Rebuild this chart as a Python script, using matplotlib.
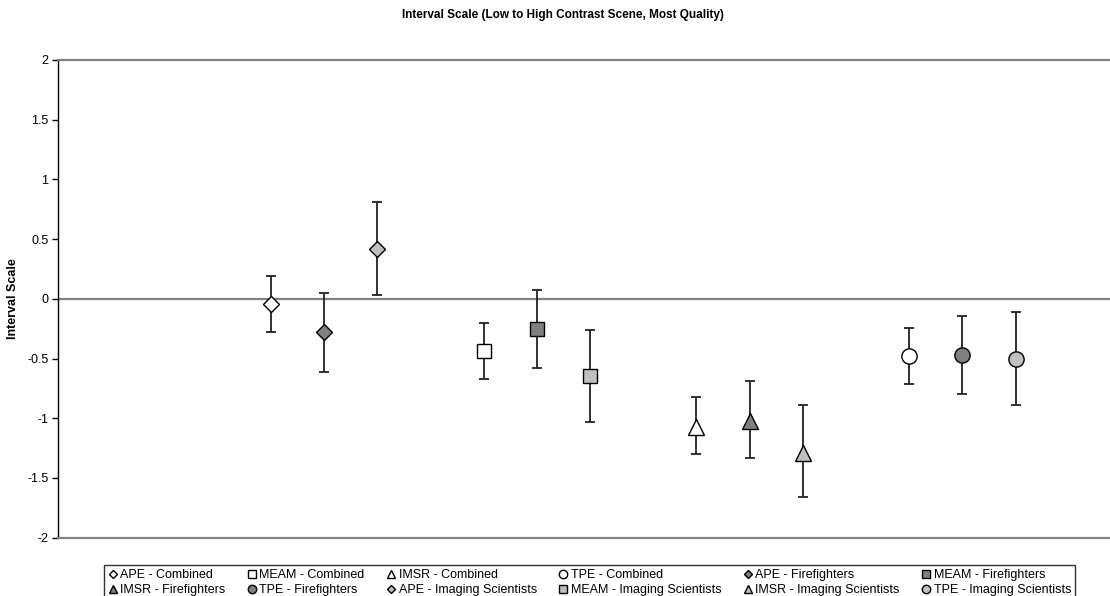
import numpy as np
import matplotlib.pyplot as plt
from matplotlib.lines import Line2D

plt.rcParams['font.family'] = ['Liberation Sans', 'DejaVu Sans']
plt.rcParams['axes.unicode_minus'] = False

# metrics (groups along x) and observer sets (series inside a group)
metrics = ['APE', 'MEAM', 'IMSR', 'TPE']
observers = ['Combined', 'Firefighters', 'Imaging Scientists']

# interval scale values, rows = metric, cols = observer set
values = np.array([
    [-0.045, -0.28, 0.418],
    [-0.44, -0.25, -0.65],
    [-1.07, -1.025, -1.29],
    [-0.48, -0.47, -0.50],
])
upper = np.array([
    [0.19, 0.05, 0.807],
    [-0.20, 0.076, -0.26],
    [-0.82, -0.684, -0.888],
    [-0.247, -0.144, -0.113],
])
lower = np.array([
    [-0.28, -0.61, 0.03],
    [-0.67, -0.58, -1.03],
    [-1.30, -1.335, -1.66],
    [-0.717, -0.80, -0.89],
])

yticks = [-2, -1.5, -1, -0.5, 0, 0.5, 1, 1.5, 2]
ytick_labels = ['-2', '-1.5', '-1', '-0.5', '0', '0.5', '1', '1.5', '2']

marker_shapes = {'APE': 'D', 'MEAM': 's', 'IMSR': '^', 'TPE': 'o'}
marker_sizes = {'APE': 8, 'MEAM': 10.5, 'IMSR': 11.5, 'TPE': 11}
fills = {'Combined': 'white', 'Firefighters': '#808080', 'Imaging Scientists': '#C0C0C0'}

fig = plt.figure(figsize=(11.10, 5.96), dpi=100)
ax = fig.add_axes([58 / 1110, 1 - 537.7 / 596, 1 - 58 / 1110, (537.7 - 60) / 596])

handles = {}
for g, m in enumerate(metrics):
    for s, o in enumerate(observers):
        x = 4 + 4 * g + s
        v = values[g, s]
        yerr = [[v - lower[g, s]], [upper[g, s] - v]]
        ax.errorbar([x], [v], yerr=yerr, fmt='none', ecolor='#222222',
                    elinewidth=1.3, capsize=3.3, capthick=1.3, zorder=2)
        ax.plot([x], [v], linestyle='none', marker=marker_shapes[m],
                markersize=marker_sizes[m], markerfacecolor=fills[o],
                markeredgecolor='black', markeredgewidth=1.0, zorder=3)
        handles[(m, o)] = Line2D([], [], linestyle='none', marker=marker_shapes[m],
                                 markersize=marker_sizes[m] * 0.55, markerfacecolor=fills[o],
                                 markeredgecolor='black', markeredgewidth=1.0)

ax.axhline(0, color='#808080', linewidth=1.6, zorder=1)

ax.set_xlim(0, (1110 - 58) / 53.2)
ax.set_ylim(-2, 2)
ax.set_xticks([])
ax.set_yticks(yticks)
ax.set_yticklabels(ytick_labels, fontsize=9)
ax.tick_params(axis='y', direction='out', length=4, width=1, pad=3)

ax.spines['right'].set_visible(False)
ax.spines['top'].set_color('#808080')
ax.spines['top'].set_linewidth(1.6)
ax.spines['bottom'].set_color('#808080')
ax.spines['bottom'].set_linewidth(1.6)
ax.spines['left'].set_color('black')
ax.spines['left'].set_linewidth(1.0)

ax.set_ylabel('Interval Scale', fontsize=9, fontweight='bold', labelpad=6)

fig.text(563 / 1110, 1 - 15 / 596, 'Interval Scale (Low to High Contrast Scene, Most Quality)',
         ha='center', va='center', fontsize=8.5, fontweight='bold')

# legend entries in row-major order as in the original, reordered for column filling
order = [(m, o) for o in observers for m in metrics]
ncol = 6
rows = [order[:ncol], order[ncol:]]
col_major = [rows[r][c] for c in range(ncol) for r in range(2)]
leg = ax.legend([handles[k] for k in col_major],
                ['%s - %s' % k for k in col_major],
                ncol=ncol, mode='expand', fontsize=9,
                bbox_to_anchor=(104 / 1110, 1 - 600 / 596, (1075 - 104) / 1110, 41 / 596),
                bbox_transform=fig.transFigure, loc='lower left',
                frameon=True, fancybox=False, edgecolor='black',
                handlelength=0.8, handletextpad=0.2, columnspacing=0.5,
                labelspacing=0.25, borderpad=0.3, borderaxespad=0)
leg.get_frame().set_linewidth(1.0)

fig.savefig('out.png', dpi=100)
